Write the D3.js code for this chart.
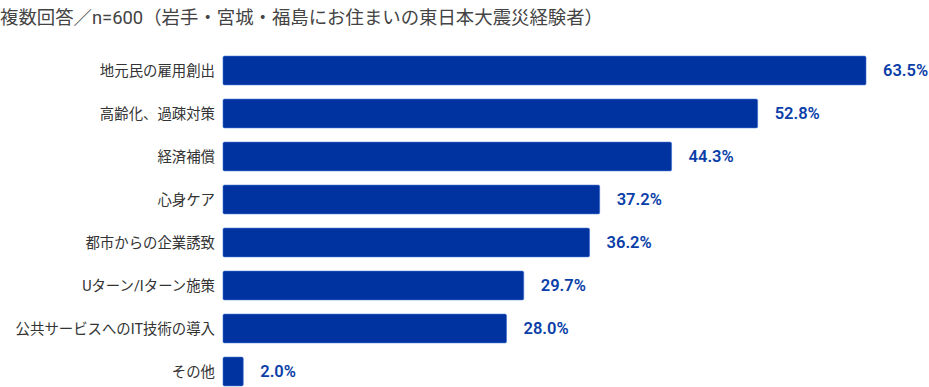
<!DOCTYPE html>
<html>
<head>
<meta charset="utf-8">
<script src="https://cdn.jsdelivr.net/npm/d3@7"></script>
<style>
  body { margin: 0; background: #fff; }
  svg text { font-family: Roboto, "Noto Sans CJK JP", sans-serif; }
</style>
</head>
<body>
<svg id="chart" width="929" height="387"></svg>
<script>
const title = "複数回答／n=600（岩手・宮城・福島にお住まいの東日本大震災経験者）";
const categories = ["地元民の雇用創出", "高齢化、過疎対策", "経済補償", "心身ケア", "都市からの企業誘致", "Uターン/Iターン施策", "公共サービスへのIT技術の導入", "その他"];
const values = [63.5, 52.8, 44.3, 37.2, 36.2, 29.7, 28.0, 2.0];

const svg = d3.select("#chart");

// layout
const barLeft = 223, barTop = 56;
const x = d3.scaleLinear().domain([0, 63.5]).range([barLeft, 866]);
const y = d3.scaleBand().domain(categories).range([barTop - 7, barTop - 7 + 43 * 8]).paddingInner(0.33).paddingOuter(0.165);

svg.append("text")
  .attr("x", 0).attr("y", 24)
  .attr("font-size", 18.4)
  .attr("fill", "#444")
  .text(title);

const rows = svg.append("g").selectAll("g")
  .data(categories)
  .join("g");

rows.append("rect")
  .attr("x", x(0))
  .attr("y", d => y(d))
  .attr("width", (d, i) => x(values[i]) - x(0))
  .attr("height", y.bandwidth())
  .attr("rx", 1.5)
  .attr("fill", "#0033a0")
  .attr("stroke", "#3d6fd0")
  .attr("stroke-width", 0.6);

// category labels
rows.append("text")
  .attr("x", barLeft - 8)
  .attr("y", d => y(d) + y.bandwidth() / 2)
  .attr("dy", "0.35em")
  .attr("text-anchor", "end")
  .attr("font-size", 14.4)
  .attr("fill", "#333")
  .text(d => d);

// value labels
rows.append("text")
  .attr("x", (d, i) => x(values[i]) + 17)
  .attr("y", d => y(d) + y.bandwidth() / 2)
  .attr("dy", "0.35em")
  .attr("font-size", 16.5)
  .attr("font-weight", 600)
  .attr("fill", "#0a3ea8")
  .text((d, i) => values[i].toFixed(1) + "%");
</script>
</body>
</html>
